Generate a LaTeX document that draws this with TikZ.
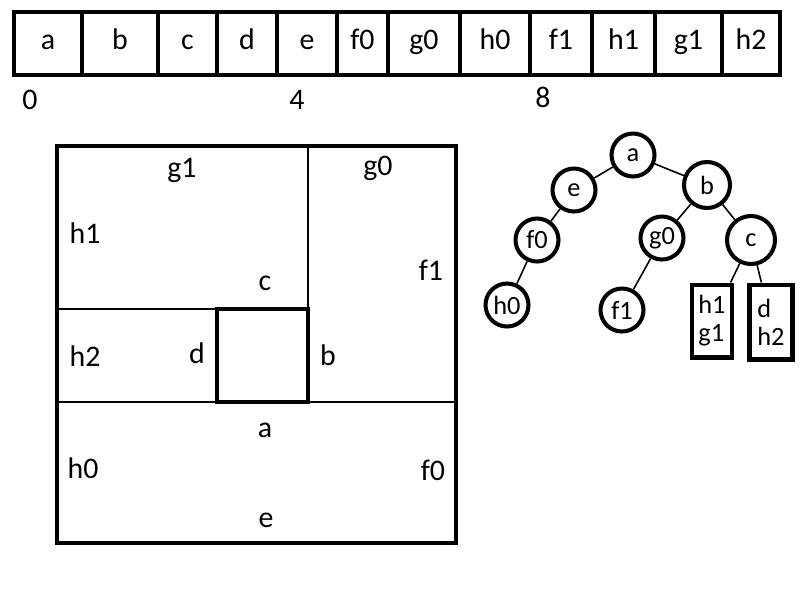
\documentclass[tikz,border=0pt]{standalone}
\usepackage{fontspec}
\setmainfont{Carlito}
\usepackage{tikz}

\begin{document}
\begin{tikzpicture}[x=0.02cm, y=-0.02cm,
    cell/.style={draw, line width=2.4pt, minimum height=1.26cm, inner sep=0pt, text height=2.1ex, text depth=0.6ex, font=\fontsize{17}{20}\selectfont},
    idx/.style={font=\fontsize{17}{20}\selectfont},
    lbl/.style={font=\fontsize{17}{20}\selectfont},
    tnode/.style={circle, draw, line width=2.3pt, minimum size=0.86cm, inner sep=0pt, font=\fontsize{15}{17}\selectfont},
    leaf/.style={rectangle, draw, line width=2.3pt, inner sep=0pt, align=left, font=\fontsize{15}{16}\selectfont},
    edge/.style={line width=0.9pt}]
    \useasboundingbox (0,0) rectangle (800,600);
    % array
    \node[cell, minimum width=1.36cm] at (48, 43.5) (ca) {a};
    \node[cell, minimum width=1.52cm] at (120, 43.5) (cb) {b};
    \node[cell, minimum width=1.18cm] at (187.5, 43.5) (cc) {c};
    \node[cell, minimum width=1.2cm] at (247, 43.5) (cd) {d};
    \node[cell, minimum width=1.2cm] at (307, 43.5) (ce) {e};
    \node[cell, minimum width=1.02cm] at (362.5, 43.5) (cf0) {f0};
    \node[cell, minimum width=1.44cm] at (424, 43.5) (cg0) {g0};
    \node[cell, minimum width=1.4cm] at (495, 43.5) (ch0) {h0};
    \node[cell, minimum width=1.24cm] at (561, 43.5) (cf1) {f1};
    \node[cell, minimum width=1.26cm] at (623.5, 43.5) (ch1) {h1};
    \node[cell, minimum width=1.34cm] at (688.5, 43.5) (cg1) {g1};
    \node[cell, minimum width=1.16cm] at (751, 43.5) (ch2) {h2};
    \node[idx] at (30, 100) (i0) {0};
    \node[idx] at (297, 100) (i4) {4};
    \node[idx] at (543, 97) (i8) {8};
    % square
    \draw[line width=2.4pt] (57,146) rectangle (456,543);
    \draw[line width=0.8pt] (57,402) -- (456,402);
    \draw[line width=0.8pt] (57,309) -- (217,309);
    \draw[line width=0.8pt] (308,146) -- (308,309);
    \draw[line width=2.4pt] (217,309) rectangle (308,402);
    \node[lbl] at (182,170) (sg1) {g1};
    \node[lbl] at (378,168) (sg0) {g0};
    \node[lbl] at (85,233) (sh1) {h1};
    \node[lbl] at (431,270) (sf1) {f1};
    \node[lbl] at (265,283) (sc) {c};
    \node[lbl] at (85,356) (sh2) {h2};
    \node[lbl] at (197,353) (sd) {d};
    \node[lbl] at (328,355) (sb) {b};
    \node[lbl] at (265,430) (sa) {a};
    \node[lbl] at (83,468) (sh0) {h0};
    \node[lbl] at (433,470) (sf0) {f0};
    \node[lbl] at (266,520) (se) {e};
    % tree
    \node[tnode] at (633,155) (ta) {a};
    \node[tnode] at (574,190) (te) {e};
    \node[tnode, minimum size=0.92cm] at (707,185) (tb) {b};
    \node[tnode] at (537,240) (tf0) {f0};
    \node[tnode] at (662,238) (tg0) {g0};
    \node[tnode, minimum size=0.96cm] at (751,240) (tc) {c};
    \node[tnode] at (507,305) (th0) {h0};
    \node[tnode] at (622,310) (tf1) {f1};
    \node[leaf, minimum width=0.8cm, minimum height=1.46cm] at (712,321) (tl1) {h1\\g1};
    \node[leaf, minimum width=0.86cm, minimum height=1.5cm] at (771,322) (tl2) {d\\h2};
    \draw[edge] (ta) -- (te);
    \draw[edge] (ta) -- (tb);
    \draw[edge] (te) -- (tf0);
    \draw[edge] (tb) -- (tg0);
    \draw[edge] (tb) -- (tc);
    \draw[edge] (tf0) -- (th0);
    \draw[edge] (tg0) -- (tf1);
    \draw[edge] (tc) -- (tl1);
    \draw[edge] (tc) -- (tl2);
  \end{tikzpicture}
\end{document}
